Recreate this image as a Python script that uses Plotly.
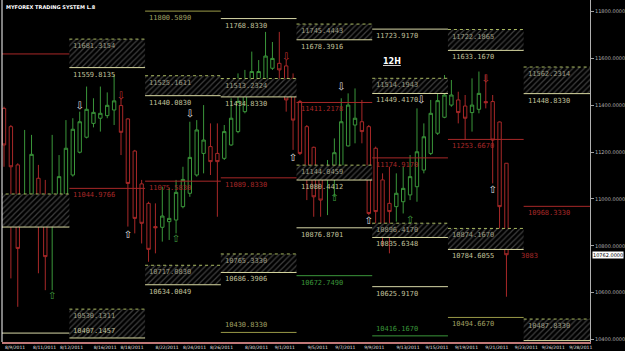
import plotly.graph_objects as go

# ---------------- data ----------------
candle_open = [11386, 11308, 11145, 10967, 10988, 11088, 11009, 10889, 10896, 10995,
               11102, 11199, 11263, 11322, 11344, 11355, 11379, 11398, 11341, 11204,
               11064, 10981, 10882, 10879, 10903, 10910, 10967, 11024, 11102, 11194,
               11223, 11194, 11173, 11230, 11287, 11372, 11479, 11510, 11510, 11557,
               11578, 11567, 11514, 11415, 11308, 11220, 11109, 11095, 11137, 11137,
               11226, 11315, 11329, 11308, 11216, 11081, 10981, 10967, 10988, 11017,
               11052, 11123, 11194, 11280, 11348, 11400, 11422, 11396, 11368, 11382,
               11415, 11415, 11328, 11152]
candle_high = [11393, 11315, 11152, 11294, 11273, 11145, 11081, 11273, 11187, 11336,
               11344, 11372, 11479, 11429, 11479, 11454, 11528, 11429, 11344, 11209,
               11081, 10988, 10981, 11052, 11045, 11081, 11137, 11329, 11336, 11400,
               11322, 11322, 11315, 11429, 11535, 11550, 11628, 11592, 11712, 11669,
               11712, 11592, 11535, 11422, 11315, 11223, 11116, 11166, 11258, 11429,
               11450, 11471, 11422, 11315, 11223, 11109, 11137, 11109, 11137, 11187,
               11386, 11322, 11422, 11471, 11528, 11507, 11457, 11443, 11514, 11543,
               11528, 11443, 11330, 11152]
candle_low = [11137, 10661, 10540, 10882, 10981, 10683, 10611, 10611, 10882, 10988,
              11095, 11194, 11258, 11305, 11287, 11344, 11315, 11187, 10882, 10853,
              10810, 10732, 10768, 10818, 10825, 10853, 10960, 11009, 11095, 11109,
              11102, 10924, 11166, 11226, 11280, 11365, 11471, 11493, 11500, 11550,
              11507, 11372, 11209, 11187, 10995, 10924, 10924, 10931, 11009, 11123,
              11223, 11237, 11237, 10931, 10882, 10796, 10768, 10903, 10938, 10995,
              10988, 11109, 11187, 11273, 11344, 11393, 11322, 11251, 11287, 11365,
              11386, 11066, 10832, 10583]
candle_close = [11230, 11137, 10789, 11017, 11190, 10931, 10754, 10910, 11095, 11216,
                11297, 11329, 11382, 11369, 11365, 11399, 11418, 11284, 11066, 10917,
                10896, 10785, 10877, 10927, 10917, 11028, 11083, 11177, 11294, 11251,
                11159, 11159, 11287, 11344, 11415, 11479, 11543, 11543, 11609, 11599,
                11550, 11422, 11336, 11194, 11123, 11009, 10995, 11123, 11197, 11329,
                11400, 11344, 11287, 10938, 10946, 10882, 10946, 11024, 11045, 11095,
                11201, 11265, 11365, 11419, 11443, 11443, 11368, 11344, 11400, 11450,
                11410, 11251, 10967, 10762]

# weekly period boundaries (in candle index units)
period_edges = [-1.5, 9.5, 20.5, 31.5, 42.5, 53.5, 64.5, 75.5, 86.5]

# hatched zones
zone_period = [0, 1, 1, 2, 2, 3, 3, 4, 4, 5, 5, 6, 6, 7, 7]
zone_top = [11021, 11681.3154, 10530.1311, 11525.1611, 10717.0830, 11513.2324, 10765.3330,
            11745.4443, 11144.0459, 11514.1943, 10896.4170, 11722.1865, 10874.1670,
            11562.2314, 10487.8330]
zone_bottom = [10880, 11559.8135, 10407.1457, 11440.0830, 10634.0049, 11434.8330, 10686.3906,
               11678.3916, 11080.4412, 11449.4170, 10835.6348, 11633.1670, 10784.6055,
               11448.8330, 10396.0]
zone_top_label = ["", "11681.3154", "10530.1311", "11525.1611", "10717.0830", "11513.2324",
                  "10765.3330", "11745.4443", "11144.0459", "11514.1943", "10896.4170",
                  "11722.1865", "10874.1670", "11562.2314", "10487.8330"]
zone_bottom_label = ["", "11559.8135", "10407.1457", "11440.0830", "10634.0049", "11434.8330",
                     "10686.3906", "11678.3916", "11080.4412", "11449.4170", "10835.6348",
                     "11633.1670", "10784.6055", "11448.8330", ""]

# red pivot lines
pivot_period = [0, 1, 2, 3, 4, 5, 6, 7]
pivot_level = [11618, 11044.9766, 11075.5830, 11089.8330, 11411.2178, 11174.9170,
               11253.6670, 10968.3330]
pivot_label = ["", "11044.9766", "11075.5830", "11089.8330", "11411.2178", "11174.9170",
               "11253.6670", "10968.3330"]

# other level lines
level_period = [0, 2, 3, 3, 4, 4, 5, 5, 5, 6]
level_value = [10428, 11800.5890, 11768.8330, 10430.8330, 10876.8701, 10672.7490,
               11723.9170, 10625.9170, 10416.1670, 10494.6670]
level_label = ["", "11800.5890", "11768.8330", "10430.8330", "10876.8701", "10672.7490",
               "11723.9170", "10625.9170", "10416.1670", "10494.6670"]
level_kind = ["pale", "olive", "pale", "olive", "pale", "green", "pale", "pale", "green", "olive"]

# signal arrows
arrow_idx = [11, 27, 49, 60.6, 18, 42, 53, 71, 17, 41, 70, 7, 25, 48, 59]
arrow_price = [11396, 11358, 11477, 11418, 10846, 11174, 10902, 11038, 11435, 11601, 11507,
               10586, 10829, 11003, 10906]
arrow_dir = ["down", "down", "down", "down", "up", "up", "up", "up", "down", "down", "down",
             "up", "up", "up", "up"]
arrow_kind = ["white"] * 8 + ["red"] * 3 + ["green"] * 4

x_tick_idx = [1.6, 5.9, 9.8, 14.7, 18.6, 23.7, 27.7, 31.6, 36.7, 40.8, 45.6, 49.6, 53.8,
              58.7, 62.9, 67.2, 71.6, 75.9, 79.8, 83.8]
x_tick_text = ["8/9/2011", "8/11/2011", "8/12/2011", "8/16/2011", "8/18/2011", "8/22/2011",
               "8/24/2011", "8/26/2011", "8/30/2011", "9/1/2011", "9/5/2011", "9/7/2011",
               "9/9/2011", "9/13/2011", "9/15/2011", "9/19/2011", "9/21/2011", "9/23/2011",
               "9/26/2011", "9/28/2011"]
y_tick_vals = [10400, 10600, 10800, 11000, 11200, 11400, 11600, 11800]
y_tick_text = ["10400.0000", "10600.0000", "10800.0000", "11000.0000", "11200.0000",
               "11400.0000", "11600.0000", "11800.0000"]
last_price = 10762
timer_text = "3083"
timer_idx = 76.3
timer_price = 10757

# ---------------- styles ----------------
GREEN = "#3a963a"
RED = "#a82828"
LINE_COLORS = {"pale": "#d8d8a8", "olive": "#9a9a48", "green": "#3a963a"}
LABEL_COLORS = {"pale": "#c0c09c", "olive": "#a0a064", "green": "#3a963a"}
ARROW_COLORS = {"white": "#e0e0e0", "red": "#c03030", "green": "#40a040"}
LABEL_FONT = dict(family="DejaVu Sans Mono", size=7)

fig = go.Figure()
annotations = []


def add_label(x0, y, text, color, above=False):
    annotations.append(dict(x=x0, y=y, text=text, xanchor="left",
                            yanchor="bottom" if above else "top",
                            xshift=2, yshift=1 if above else -1, showarrow=False,
                            font=dict(LABEL_FONT, color=color)))


# hatched zones
for p, t, b, lt, lb in zip(zone_period, zone_top, zone_bottom, zone_top_label, zone_bottom_label):
    x0, x1 = period_edges[p], period_edges[p + 1]
    fig.add_trace(go.Scatter(
        x=[x0, x1, x1, x0, x0], y=[b, b, t, t, b], mode="none", fill="toself",
        fillcolor="#000000",
        fillpattern=dict(shape="/", fgcolor="#7c7c7c", bgcolor="#000000", size=4, solidity=0.3),
        hoverinfo="skip", showlegend=False))
    fig.add_trace(go.Scatter(x=[x0, x1], y=[t, t], mode="lines",
                             line=dict(color="#a8b860", width=1, dash="dot"),
                             hoverinfo="skip", showlegend=False))
    fig.add_trace(go.Scatter(x=[x0, x1], y=[b, b], mode="lines",
                             line=dict(color="#d8d8a0", width=1),
                             hoverinfo="skip", showlegend=False))
    if lt:
        add_label(x0, t, lt, "#9c9c84")
    if lb:
        # labels right at the bottom of the plot sit above their line
        add_label(x0, b, lb, "#c0c09c", above=(b < 10450))

# level lines
for p, v, lab, k in zip(level_period, level_value, level_label, level_kind):
    x0, x1 = period_edges[p], period_edges[p + 1]
    fig.add_trace(go.Scatter(x=[x0, x1], y=[v, v], mode="lines",
                             line=dict(color=LINE_COLORS[k], width=1),
                             hoverinfo="skip", showlegend=False))
    if lab:
        add_label(x0, v, lab, LABEL_COLORS[k], above=(v < 10450))

# pivot lines
for p, v, lab in zip(pivot_period, pivot_level, pivot_label):
    x0, x1 = period_edges[p], period_edges[p + 1]
    fig.add_trace(go.Scatter(x=[x0, x1], y=[v, v], mode="lines",
                             line=dict(color=RED, width=1),
                             hoverinfo="skip", showlegend=False))
    if lab:
        add_label(x0, v, lab, RED)

# candles
fig.add_trace(go.Candlestick(
    x=list(range(len(candle_open))), open=candle_open, high=candle_high,
    low=candle_low, close=candle_close,
    increasing=dict(line=dict(color=GREEN, width=1), fillcolor="rgba(0,0,0,0)"),
    decreasing=dict(line=dict(color=RED, width=1), fillcolor="rgba(0,0,0,0)"),
    whiskerwidth=0, showlegend=False, hoverinfo="skip"))

# arrows
for kind in ["white", "red", "green"]:
    xs = [i for i, k in zip(arrow_idx, arrow_kind) if k == kind]
    ys = [v for v, k in zip(arrow_price, arrow_kind) if k == kind]
    ts = ["\u21e9" if d == "down" else "\u21e7"
          for d, k in zip(arrow_dir, arrow_kind) if k == kind]
    fig.add_trace(go.Scatter(x=xs, y=ys, mode="text", text=ts,
                             textfont=dict(family="DejaVu Sans", size=10,
                                           color=ARROW_COLORS[kind]),
                             hoverinfo="skip", showlegend=False))

# texts
annotations.append(dict(x=timer_idx, y=timer_price, text=timer_text, showarrow=False,
                        font=dict(LABEL_FONT, color=RED)))
annotations.append(dict(x=56.4, y=11584, text="<b>12H</b>", showarrow=False,
                        font=dict(family="DejaVu Sans", size=8, color="#ffffff",
                                  lineposition="under")))
annotations.append(dict(xref="paper", yref="paper", x=0.003, y=0.995,
                        text="<b>MYFOREX TRADING SYSTEM L.8</b>", showarrow=False,
                        xanchor="left", yanchor="top",
                        font=dict(family="DejaVu Sans", size=5, color="#ffffff")))
annotations.append(dict(xref="paper", x=1, y=last_price, text="10762.0000",
                        xanchor="left", xshift=2, showarrow=False, bgcolor="#ffffff",
                        borderpad=0,
                        font=dict(family="DejaVu Sans", size=5, color="#000000")))

fig.update_layout(
    width=625, height=351,
    margin=dict(l=2, r=31, t=0, b=9),
    paper_bgcolor="#000000", plot_bgcolor="#000000",
    showlegend=False,
    annotations=annotations,
    xaxis=dict(range=[-0.29, 85.14], tickvals=x_tick_idx, ticktext=x_tick_text,
               tickfont=dict(family="DejaVu Sans", size=4.5, color="#e0e0e0"),
               showgrid=False, zeroline=False, rangeslider=dict(visible=False),
               showline=True, linecolor="#c07878", linewidth=2, ticks="", tickangle=0),
    yaxis=dict(range=[10390, 11848], side="right", tickvals=y_tick_vals,
               ticktext=y_tick_text,
               tickfont=dict(family="DejaVu Sans", size=5, color="#b0b0b0"),
               showgrid=False, zeroline=False, showline=True, linecolor="#b0b0b0",
               ticks="outside", ticklen=3, tickcolor="#a0a0a0"),
    shapes=[dict(type="line", xref="paper", yref="paper", x0=0, x1=0, y0=0, y1=1,
                 line=dict(color="#ffffff", width=1))],
)

fig.write_html("out.html")
